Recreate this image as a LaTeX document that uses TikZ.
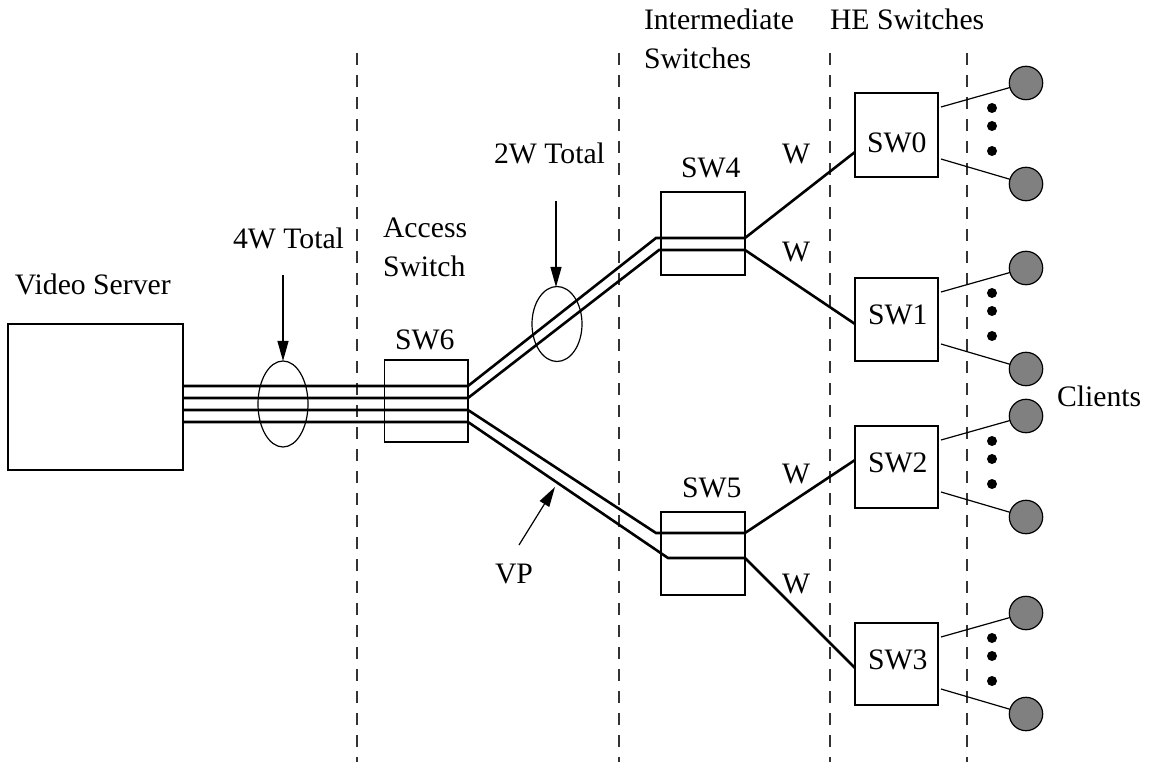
\documentclass[tikz,border=0pt]{standalone}
\usepackage{fontspec}
\setmainfont{Liberation Serif}
\usetikzlibrary{arrows.meta,shapes.geometric}
\definecolor{clientgray}{RGB}{128,128,128}
\tikzset{
  lbl/.style={anchor=base west, inner sep=0pt, outer sep=0pt, font=\fontsize{29.7}{36}\selectfont},
  swbox/.style={draw, line width=1.2pt, rectangle, inner sep=0pt, outer sep=0pt},
  fiber/.style={line width=2.6pt, line join=miter},
  thinline/.style={line width=1.2pt},
  sepline/.style={line width=1.2pt, dash pattern=on 12pt off 10pt, draw=black!80},
  pointer/.style={line width=1.2pt, -{Triangle[length=20pt,width=11pt]}},
  client/.style={circle, draw, line width=1.2pt, fill=clientgray, minimum size=33.4pt, inner sep=0pt, outer sep=0pt},
  dotmark/.style={circle, fill=black, minimum size=10pt, inner sep=0pt},
  ring/.style={draw, line width=1.2pt, ellipse, inner sep=0pt}
}
\begin{document}
\begin{tikzpicture}[x=1pt,y=-1pt]
\useasboundingbox (0,0) rectangle (1163,762);
% separators
\foreach \i/\x in {1/357,2/619,3/830,4/967}{
  \coordinate (st\i) at (\x,53);
  \coordinate (sb\i) at (\x,762);
  \draw[sepline] (st\i) -- (sb\i);
}
% boxes
\node[swbox, minimum width=175pt, minimum height=146pt] (vs) at (95.5,397) {};
\node[swbox, minimum width=83.3pt, minimum height=82pt] (sw6) at (426.3,401) {};
\node[swbox, minimum width=84pt, minimum height=83pt] (sw4) at (703,233.5) {};
\node[swbox, minimum width=84pt, minimum height=83pt] (sw5) at (703,553.5) {};
\node[swbox, minimum width=83pt, minimum height=84pt] (sw0) at (896.5,135) {};
\node[swbox, minimum width=83pt, minimum height=83pt] (sw1) at (896.5,319.5) {};
\node[swbox, minimum width=83pt, minimum height=82pt] (sw2) at (896.5,467) {};
\node[swbox, minimum width=83pt, minimum height=82pt] (sw3) at (896.5,664) {};
% labels
\node[lbl] (tvs) at (15,295) {Video Server};
\node[lbl] (t4w) at (233,249) {4W Total};
\node[lbl] (tacc) at (383,238) {Access};
\node[lbl] (tacc2) at (383,277) {Switch};
\node[lbl] (t2w) at (494,164) {2W Total};
\node[lbl] (tint) at (644,30) {Intermediate};
\node[lbl] (tint2) at (644,69) {Switches};
\node[lbl] (the) at (830,30) {HE Switches};
\node[lbl] (l6) at (395,349) {SW6};
\node[lbl] (l4) at (681,178) {SW4};
\node[lbl] (l5) at (682,497) {SW5};
\node[lbl] (tvp) at (495,583) {VP};
\node[lbl] (l0) at (867,153) {SW0};
\node[lbl] (l1) at (868,324) {SW1};
\node[lbl] (l2) at (868,472) {SW2};
\node[lbl] (l3) at (868,669) {SW3};
\node[lbl] (w1) at (782,164) {W};
\node[lbl] (w2) at (782,262) {W};
\node[lbl] (w3) at (782,483) {W};
\node[lbl] (w4) at (782,593) {W};
\node[lbl] (tcl) at (1057,406) {Clients};
% fibre coordinates
\coordinate (a1) at (183,386); \coordinate (b1) at (468,386);
\coordinate (a2) at (183,398); \coordinate (b2) at (468,398);
\coordinate (a3) at (183,410); \coordinate (b3) at (468,410);
\coordinate (a4) at (183,422); \coordinate (b4) at (468,422);
\coordinate (u1) at (656,238); \coordinate (e1) at (745,238);
\coordinate (u2) at (659,250); \coordinate (e2) at (745,250);
\coordinate (d1) at (656,533); \coordinate (f1) at (745,533);
\coordinate (d2) at (668,558); \coordinate (f2) at (745,558);
\coordinate (i0) at (855,152);
\coordinate (i1) at (855,324);
\coordinate (i2) at (855,460);
\coordinate (i3) at (855,668);
% fibres
\draw[fiber] (a1) -- (b1) -- (u1) -- (e1) -- (i0);
\draw[fiber] (a2) -- (b2) -- (u2) -- (e2) -- (i1);
\draw[fiber] (a3) -- (b3) -- (d1) -- (f1) -- (i2);
\draw[fiber] (a4) -- (b4) -- (d2) -- (f2) -- (i3);
% ellipses
\node[ring, minimum width=50pt, minimum height=86pt] (el4) at (283,404) {};
\node[ring, minimum width=50pt, minimum height=75pt] (el2) at (557,324) {};
% pointers
\coordinate (p4s) at (283,275); \coordinate (p4e) at (283,361);
\coordinate (p2s) at (556,201); \coordinate (p2e) at (556,287);
\coordinate (pvs) at (519,545); \coordinate (pve) at (555,487);
\draw[pointer] (p4s) -- (p4e);
\draw[pointer] (p2s) -- (p2e);
\draw[pointer] (pvs) -- (pve);
% clients
\foreach \n/\T in {0/93,1/278,2/426,3/623}{
  \node[client] (c\n a) at (1026,\T-10) {};
  \node[client] (c\n b) at (1026,\T+91) {};
  \coordinate (q\n a) at (941,\T+14);
  \coordinate (q\n b) at (941,\T+66);
  \draw[thinline] (q\n a) -- (c\n a);
  \draw[thinline] (q\n b) -- (c\n b);
  \node[dotmark] (k\n a) at (992,\T+15) {};
  \node[dotmark] (k\n b) at (992,\T+33) {};
  \node[dotmark] (k\n c) at (992,\T+58) {};
}
\end{tikzpicture}
\end{document}
